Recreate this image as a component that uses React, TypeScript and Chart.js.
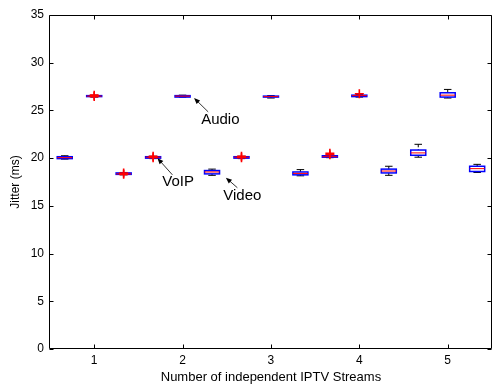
import React, { useEffect, useRef } from "react";
import { Chart, registerables } from "chart.js";

Chart.register(...registerables);

// Stream counts on the x axis and the three traffic classes per count
const groups = [1, 2, 3, 4, 5];
const xTicks = [1, 2, 3, 4, 5];
const yTicks = [0, 5, 10, 15, 20, 25, 30, 35];
const seriesNames = ["VoIP", "Audio", "Video"];
const seriesOffsets = [-1 / 3, 0, 1 / 3];
const boxWidth = 0.17;

// VoIP jitter (ms): whisker ends, quartiles, median, outliers
const voipLow = [19.9, 19.95, 19.95, 20.05, 20.1];
const voipQ1 = [19.95, 20.0, 20.0, 20.1, 20.3];
const voipMed = [20.05, 20.1, 20.1, 20.15, 20.55];
const voipQ3 = [20.15, 20.15, 20.15, 20.25, 20.85];
const voipHigh = [20.25, 20.2, 20.2, 20.3, 21.45];
const voipOutliers = [[], [20.2, 20.05], [20.2, 20.05], [20.5, 20.35], []];

// Audio jitter (ms)
const audioLow = [26.4, 26.4, 26.3, 26.4, 26.3];
const audioQ1 = [26.45, 26.4, 26.4, 26.45, 26.4];
const audioMed = [26.5, 26.5, 26.45, 26.55, 26.6];
const audioQ3 = [26.55, 26.55, 26.5, 26.6, 26.85];
const audioHigh = [26.6, 26.6, 26.55, 26.65, 27.2];
const audioOutliers = [[26.6, 26.45], [], [], [26.75], []];

// Video jitter (ms)
const videoLow = [18.25, 18.2, 18.15, 18.2, 18.5];
const videoQ1 = [18.3, 18.35, 18.25, 18.45, 18.6];
const videoMed = [18.35, 18.55, 18.4, 18.65, 18.9];
const videoQ3 = [18.45, 18.7, 18.55, 18.85, 19.15];
const videoHigh = [18.5, 18.85, 18.8, 19.15, 19.35];
const videoOutliers = [[18.45, 18.3], [], [], [], []];

// Text callouts: label, text anchor (left, middle) and arrow tail/head in data units
const calloutLabels = ["Audio", "VoIP", "Video"];
const calloutText = [[2.21, 24.0], [1.77, 17.5], [2.46, 16.0]];
const calloutTail = [[2.29, 24.85], [1.885, 18.25], [2.62, 16.9]];
const calloutHead = [[2.13, 26.3], [1.716, 20.0], [2.49, 17.95]];

const series = [
  { name: seriesNames[0], low: voipLow, q1: voipQ1, med: voipMed, q3: voipQ3, high: voipHigh, out: voipOutliers },
  { name: seriesNames[1], low: audioLow, q1: audioQ1, med: audioMed, q3: audioQ3, high: audioHigh, out: audioOutliers },
  { name: seriesNames[2], low: videoLow, q1: videoQ1, med: videoMed, q3: videoQ3, high: videoHigh, out: videoOutliers },
];

const FONT = "'Liberation Sans', Arial, Helvetica, sans-serif";

const outlierPoints = series.flatMap((s, si) =>
  groups.flatMap((g, i) => s.out[i].map((v) => ({ x: g + seriesOffsets[si], y: v })))
);

const boxPlugin = {
  id: "boxes",
  beforeDatasetsDraw(chart: any) {
    const { ctx } = chart;
    const x = chart.scales.x;
    const y = chart.scales.y;
    const unit = x.getPixelForValue(1) - x.getPixelForValue(0);
    const halfW = (unit * boxWidth) / 2;
    const capHalf = halfW / 2;
    ctx.save();
    series.forEach((s, si) => {
      groups.forEach((g, i) => {
        const px = x.getPixelForValue(g + seriesOffsets[si]);
        const yLow = y.getPixelForValue(s.low[i]);
        const yQ1 = y.getPixelForValue(s.q1[i]);
        const yMed = y.getPixelForValue(s.med[i]);
        const yQ3 = y.getPixelForValue(s.q3[i]);
        const yHigh = y.getPixelForValue(s.high[i]);
        // whiskers
        ctx.strokeStyle = "#000";
        ctx.lineWidth = 1;
        ctx.setLineDash([3, 2]);
        ctx.beginPath();
        ctx.moveTo(px, yHigh);
        ctx.lineTo(px, yQ3);
        ctx.moveTo(px, yQ1);
        ctx.lineTo(px, yLow);
        ctx.stroke();
        ctx.setLineDash([]);
        // whisker caps
        ctx.beginPath();
        ctx.moveTo(px - capHalf, yHigh);
        ctx.lineTo(px + capHalf, yHigh);
        ctx.moveTo(px - capHalf, yLow);
        ctx.lineTo(px + capHalf, yLow);
        ctx.stroke();
        // box
        ctx.strokeStyle = "#0000ff";
        ctx.lineWidth = 1.5;
        ctx.strokeRect(px - halfW, yQ3, halfW * 2, yQ1 - yQ3);
        // median
        ctx.strokeStyle = "#ff0000";
        ctx.lineWidth = 1;
        ctx.beginPath();
        ctx.moveTo(px - halfW, yMed);
        ctx.lineTo(px + halfW, yMed);
        ctx.stroke();
      });
    });
    ctx.restore();
  },
};

const framePlugin = {
  id: "frame",
  afterDraw(chart: any) {
    const { ctx, chartArea } = chart;
    const { left, right, top, bottom } = chartArea;
    const x = chart.scales.x;
    const y = chart.scales.y;
    const tl = 4;
    ctx.save();
    ctx.strokeStyle = "#000";
    ctx.lineWidth = 1;
    ctx.beginPath();
    const L = Math.round(left) - 0.5;
    const R = Math.round(right) - 0.5;
    const T = Math.round(top) + 0.5;
    const B = Math.round(bottom) - 0.5;
    ctx.rect(L, T, R - L, B - T);
    xTicks.forEach((v) => {
      const px = Math.round(x.getPixelForValue(v)) + 0.5;
      ctx.moveTo(px, B);
      ctx.lineTo(px, B - tl);
      ctx.moveTo(px, T);
      ctx.lineTo(px, T + tl);
    });
    yTicks.forEach((v) => {
      const py = Math.round(y.getPixelForValue(v)) + 0.5;
      ctx.moveTo(L, py);
      ctx.lineTo(L + tl, py);
      ctx.moveTo(R, py);
      ctx.lineTo(R - tl, py);
    });
    ctx.stroke();
    ctx.restore();
  },
};

const calloutPlugin = {
  id: "callouts",
  afterDraw(chart: any) {
    const { ctx } = chart;
    const x = chart.scales.x;
    const y = chart.scales.y;
    ctx.save();
    ctx.fillStyle = "#000";
    ctx.strokeStyle = "#000";
    ctx.font = `15px ${FONT}`;
    ctx.textAlign = "left";
    ctx.textBaseline = "middle";
    calloutLabels.forEach((label, i) => {
      ctx.fillText(label, x.getPixelForValue(calloutText[i][0]), y.getPixelForValue(calloutText[i][1]));
      const x0 = x.getPixelForValue(calloutTail[i][0]);
      const y0 = y.getPixelForValue(calloutTail[i][1]);
      const x1 = x.getPixelForValue(calloutHead[i][0]);
      const y1 = y.getPixelForValue(calloutHead[i][1]);
      const ang = Math.atan2(y1 - y0, x1 - x0);
      const hl = 6;
      const hw = 2.5;
      ctx.lineWidth = 0.8;
      ctx.beginPath();
      ctx.moveTo(x0, y0);
      ctx.lineTo(x1 - Math.cos(ang) * hl * 0.8, y1 - Math.sin(ang) * hl * 0.8);
      ctx.stroke();
      ctx.beginPath();
      ctx.moveTo(x1, y1);
      ctx.lineTo(
        x1 - Math.cos(ang) * hl + Math.sin(ang) * hw,
        y1 - Math.sin(ang) * hl - Math.cos(ang) * hw
      );
      ctx.lineTo(
        x1 - Math.cos(ang) * hl - Math.sin(ang) * hw,
        y1 - Math.sin(ang) * hl + Math.cos(ang) * hw
      );
      ctx.closePath();
      ctx.fill();
    });
    ctx.restore();
  },
};

export default function App() {
  const canvasRef = useRef<HTMLCanvasElement | null>(null);

  useEffect(() => {
    if (!canvasRef.current) return;
    Chart.defaults.font.family = FONT;
    const chart = new Chart(canvasRef.current, {
      type: "scatter",
      data: {
        datasets: [
          {
            label: "Outliers",
            data: outlierPoints,
            pointStyle: "cross",
            pointRadius: 4.5,
            pointBorderWidth: 1.6,
            borderColor: "#ff0000",
            backgroundColor: "#ff0000",
          },
        ],
      },
      options: {
        responsive: false,
        animation: false,
        layout: { padding: { top: 15, right: 4, left: 0, bottom: 0 } },
        plugins: {
          legend: { display: false },
          tooltip: { enabled: false },
        },
        scales: {
          x: {
            type: "linear",
            min: 0.5,
            max: 5.5,
            grid: { display: false, drawTicks: false },
            border: { display: false },
            afterBuildTicks: (scale: any) => {
              scale.ticks = xTicks.map((v) => ({ value: v }));
            },
            afterFit: (scale: any) => {
              scale.height = 36;
            },
            ticks: {
              color: "#000",
              font: { size: 12 },
              padding: 4,
              callback: (v: any) => String(v),
            },
            title: {
              display: true,
              text: "Number of independent IPTV Streams",
              color: "#000",
              font: { size: 13 },
              padding: { top: 0, bottom: 0 },
            },
          },
          y: {
            type: "linear",
            min: 0,
            max: 35,
            grid: { display: false, drawTicks: false },
            border: { display: false },
            afterBuildTicks: (scale: any) => {
              scale.ticks = yTicks.map((v) => ({ value: v }));
            },
            afterFit: (scale: any) => {
              scale.width = 50;
            },
            ticks: {
              color: "#000",
              font: { size: 12 },
              padding: 6,
              callback: (v: any) => String(v),
            },
            title: {
              display: true,
              text: "Jitter (ms)",
              color: "#000",
              font: { size: 12 },
              padding: { top: 8, bottom: 0 },
            },
          },
        },
      },
      plugins: [boxPlugin, framePlugin, calloutPlugin],
    });
    return () => chart.destroy();
  }, []);

  return (
    <div
      style={{
        position: "fixed",
        left: 0,
        top: 0,
        width: 493,
        height: 385,
        overflow: "hidden",
        background: "#fff",
      }}
    >
      <canvas ref={canvasRef} width={498} height={385} style={{ display: "block" }} />
    </div>
  );
}
